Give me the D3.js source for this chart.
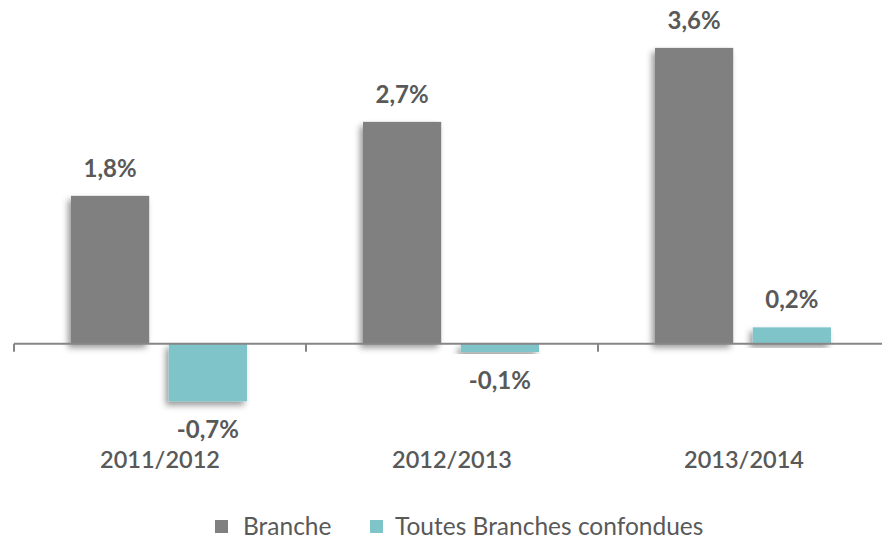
<!DOCTYPE html>
<html>
<head>
<meta charset="utf-8">
<script src="https://cdn.jsdelivr.net/npm/d3@7"></script>
<style>
  body { margin: 0; background: #fff; }
  text { font-family: Lato, "Open Sans", sans-serif; fill: #595959; }
</style>
</head>
<body>
<div id="chart-container"></div>
<script>
// Data.
const categories = ["2011/2012", "2012/2013", "2013/2014"];
const seriesNames = ["Branche", "Toutes Branches confondues"];
const branche = [1.8, 2.7, 3.6];
const toutes = [-0.7, -0.1, 0.2];
const valueLabels = [["1,8%", "2,7%", "3,6%"], ["-0,7%", "-0,1%", "0,2%"]];
const colors = ["#808080", "#7fc4c9"];

const width = 882;
const height = 539;

const rows = categories.flatMap((c, i) => [
  { cat: c, key: seriesNames[0], value: branche[i], label: valueLabels[0][i] },
  { cat: c, key: seriesNames[1], value: toutes[i], label: valueLabels[1][i] }
]);

// Scales.
const x = d3.scaleBand()
    .domain(categories)
    .range([14, 890]);

const x1 = d3.scaleBand()
    .domain(seriesNames)
    .range([57, 233])
    .paddingInner(0.2);

const y = d3.scaleLinear()
    .domain([-1, 4])
    .range([426, 15]);

const color = d3.scaleOrdinal().domain(seriesNames).range(colors);

const svg = d3.create("svg")
    .attr("width", width)
    .attr("height", height);

// Soft shadow under the bars.
svg.append("defs").append("filter")
    .attr("id", "shadow")
    .attr("x", "-20%").attr("y", "-20%")
    .attr("width", "140%").attr("height", "140%")
  .append("feDropShadow")
    .attr("dx", -3).attr("dy", 4)
    .attr("stdDeviation", 3)
    .attr("flood-color", "#000")
    .attr("flood-opacity", 0.4);

// Bars.
svg.append("g")
  .selectAll("rect")
  .data(rows)
  .join("rect")
    .attr("x", d => x(d.cat) + x1(d.key))
    .attr("y", d => y(Math.max(0, d.value)))
    .attr("width", x1.bandwidth())
    .attr("height", d => Math.abs(y(d.value) - y(0)))
    .attr("fill", d => color(d.key))
    .attr("filter", "url(#shadow)");

// Horizontal axis with ticks at the category boundaries.
const axis = svg.append("g").attr("stroke", "#868686").attr("stroke-width", 2);
axis.append("line")
    .attr("x1", x.range()[0]).attr("x2", width)
    .attr("y1", y(0)).attr("y2", y(0));
const boundaries = categories.map(c => x(c)).concat([x.range()[1]]);
axis.selectAll(".tick")
  .data(boundaries)
  .join("line")
    .attr("class", "tick")
    .attr("x1", d => d).attr("x2", d => d)
    .attr("y1", y(0)).attr("y2", y(0) + 8);

// Value labels.
svg.append("g")
  .selectAll("text")
  .data(rows)
  .join("text")
    .attr("x", d => x(d.cat) + x1(d.key) + x1.bandwidth() / 2)
    .attr("y", d => d.value >= 0 ? y(d.value) - 19 : y(d.value) + 37)
    .attr("text-anchor", "middle")
    .attr("font-size", 24)
    .attr("font-weight", "bold")
    .text(d => d.label);

// Category labels.
svg.append("g")
  .selectAll("text")
  .data(categories)
  .join("text")
    .attr("x", d => x(d) + x.bandwidth() / 2)
    .attr("y", 468)
    .attr("text-anchor", "middle")
    .attr("font-size", 23.5)
    .attr("font-weight", 600)
    .text(d => d);

// Legend.
const legendX = [215, 370];
const legend = svg.append("g")
  .selectAll("g")
  .data(seriesNames)
  .join("g")
    .attr("transform", (d, i) => `translate(${legendX[i]},520)`);
legend.append("rect")
    .attr("width", 13).attr("height", 13)
    .attr("fill", d => color(d));
legend.append("text")
    .attr("x", (d, i) => i === 0 ? 28 : 25)
    .attr("y", 15)
    .attr("font-size", 24.5)
    .text(d => d);

d3.select("#chart-container").append(() => svg.node());
</script>
</body>
</html>
